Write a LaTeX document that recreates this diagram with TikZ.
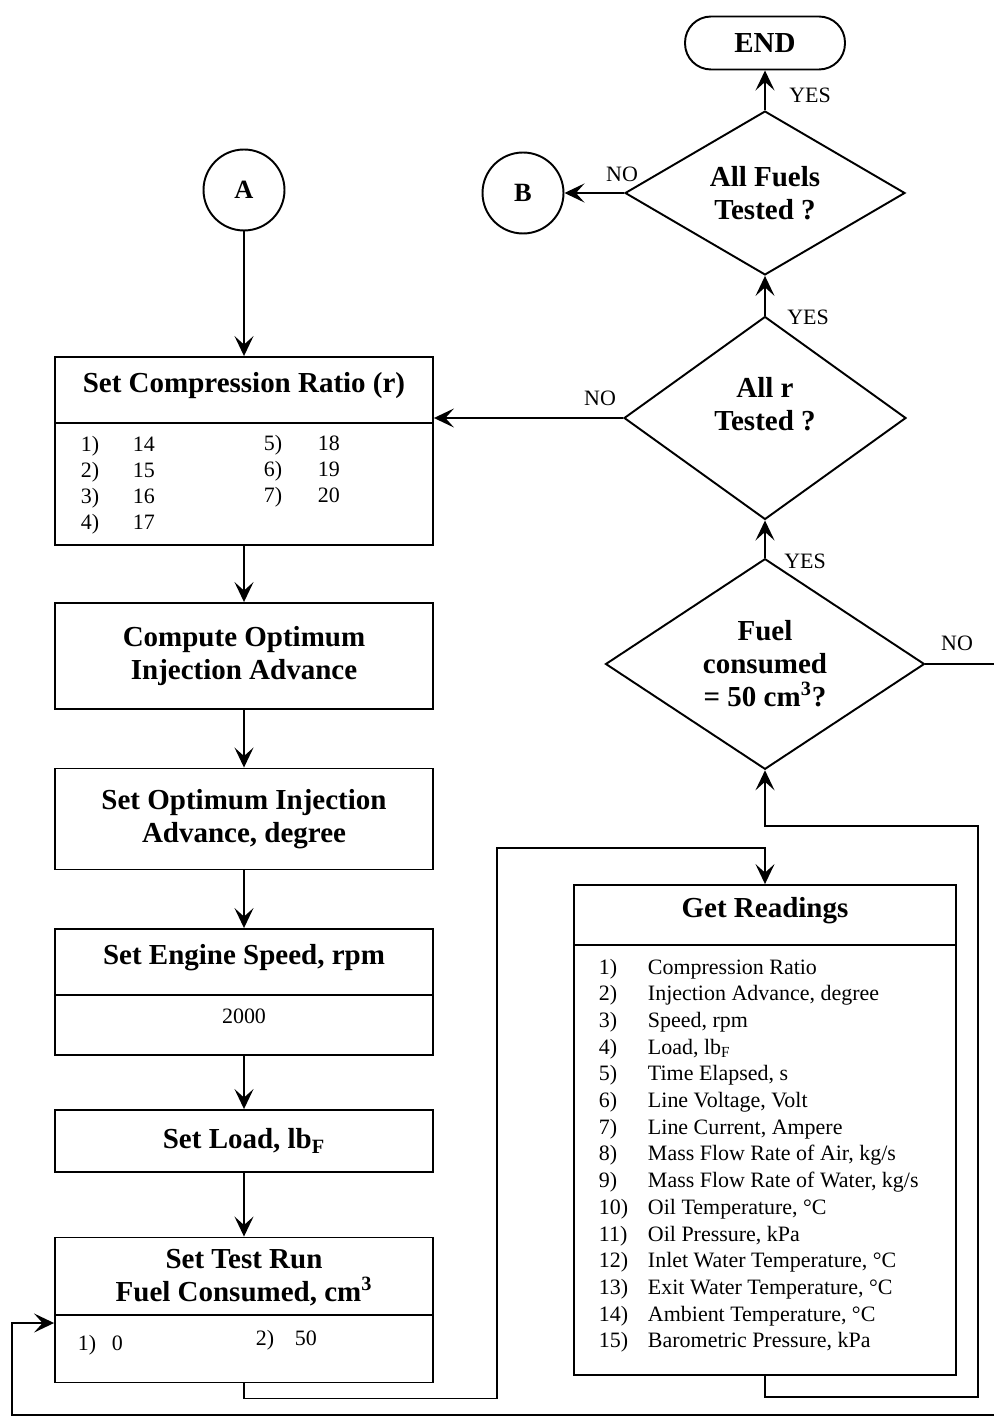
\documentclass[tikz,border=0pt]{standalone}
\usepackage{fontspec}
\setmainfont{Liberation Serif}
\usepackage{tikz}
\usetikzlibrary{shapes.geometric, arrows.meta, positioning}

\newcommand{\titlefont}{\fontsize{16.5}{18.8}\selectfont\bfseries}
\newcommand{\listfont}{\fontsize{12.5}{15}\selectfont}

\tikzset{
    box/.style={draw, minimum width=7.56cm, inner sep=0pt, align=center, font=\titlefont},
    decision/.style={draw, diamond, inner sep=0pt, align=center, font=\titlefont},
    terminal/.style={draw, rounded corners=5.2mm, minimum width=3.2cm, minimum height=1.06cm, font=\titlefont},
    conn/.style={draw, circle, minimum size=1.62cm, inner sep=0pt, font=\fontsize{15}{18}\selectfont\bfseries},
    title/.style={inner sep=0pt, align=center, font=\titlefont},
    entry/.style={inner sep=0pt, anchor=base west, font=\listfont},
    tag/.style={inner sep=0pt, font=\fontsize{12.5}{15}\selectfont}
}

\begin{document}
\begin{tikzpicture}[x=0.02cm, y=-0.02cm, line width=1.1pt,
    >={Stealth[length=4mm, width=3.8mm, inset=1.7mm]}]
    \useasboundingbox (0,0) rectangle (994,1422);

    % 1. Cot trai
    \node[conn] (A) at (244,190) {A};

    \node[box, minimum height=3.76cm] (ratio) at (244,451) {};
    \node[title] (ratio-t) at (244,386) {Set Compression Ratio (r)};
    \draw (ratio.west |- 0,423) -- (ratio.east |- 0,423);
    \foreach \n/\v [count=\i from 0] in {1/14, 2/15, 3/16, 4/17} {
        \node[entry] (rn\n) at (80,{451+26*\i}) {\n)};
        \node[entry] (rv\n) at (132,{451+26*\i}) {\v};
    }
    \foreach \n/\v [count=\i from 0] in {5/18, 6/19, 7/20} {
        \node[entry] (rn\n) at (263,{450+26*\i}) {\n)};
        \node[entry] (rv\n) at (317,{450+26*\i}) {\v};
    }

    \node[box, minimum height=2.12cm] (optcalc) at (244,656) {Compute Optimum\\Injection Advance};
    \node[box, minimum height=2.02cm] (optset) at (244,819) {Set Optimum Injection\\Advance, degree};

    \node[box, minimum height=2.52cm] (speed) at (244,992) {};
    \node[title] (speed-t) at (244,958) {Set Engine Speed, rpm};
    \draw (speed.west |- 0,995) -- (speed.east |- 0,995);
    \node[entry, anchor=center] (speed-v) at (244,1016) {2000};

    \node[box, minimum height=1.24cm] (load) at (244,1141) {Set Load, lb\textsubscript{F}};

    \node[box, minimum height=2.9cm] (run) at (244,1310) {};
    \node[title] (run-t) at (244,1278) {Set Test Run\\Fuel Consumed, cm\textsuperscript{3}};
    \draw (run.west |- 0,1315) -- (run.east |- 0,1315);
    \node[entry] (run-n1) at (77,1350) {1)};
    \node[entry] (run-v1) at (111,1350) {0};
    \node[entry] (run-n2) at (255,1345) {2)};
    \node[entry] (run-v2) at (294,1345) {50};

    % 2. Cot phai
    \node[terminal] (end) at (765,43) {END};
    \node[decision, minimum width=5.6cm, minimum height=3.2cm] (fuels) at (765,193) {All Fuels\\Tested ?};
    \node[conn] (B) at (523,193) {B};
    \node[decision, minimum width=5.64cm, minimum height=4.06cm] (rdone) at (765,418) {};
    \node[title] (rdone-t) at (765,404) {All r\\Tested ?};
    \node[decision, minimum width=6.38cm, minimum height=4.16cm] (fuel50) at (765,664) {Fuel\\consumed\\= 50 cm\textsuperscript{3}?};

    \node[box, minimum width=7.64cm, minimum height=9.8cm] (read) at (765,1130) {};
    \node[title] (read-t) at (765,911) {Get Readings};
    \draw (read.west |- 0,945) -- (read.east |- 0,945);
    \foreach \t [count=\i] in {Compression Ratio, {Injection Advance, degree}, {Speed, rpm},
        {Load, lb\textsubscript{F}}, {Time Elapsed, s}, {Line Voltage, Volt}, {Line Current, Ampere},
        {Mass Flow Rate of Air, kg/s}, {Mass Flow Rate of Water, kg/s}, {Oil Temperature, °C},
        {Oil Pressure, kPa}, {Inlet Water Temperature, °C}, {Exit Water Temperature, °C},
        {Ambient Temperature, °C}, {Barometric Pressure, kPa}} {
        \node[entry] (rd\i) at (598,{974+26.7*(\i-1)}) {\i)};
        \node[entry] (rt\i) at (647,{974+26.7*(\i-1)}) {\t};
    }

    % 3. Nhan YES / NO
    \node[tag] (yes1) at (810,95) {YES};
    \node[tag] (yes2) at (808,317) {YES};
    \node[tag] (yes3) at (805,561) {YES};
    \node[tag] (no1) at (622,174) {NO};
    \node[tag] (no2) at (600,398) {NO};
    \node[tag] (no3) at (957,643) {NO};

    % 4. Duong noi
    \draw[->] (A) -- (ratio);
    \draw[->] (ratio) -- (optcalc);
    \draw[->] (optcalc) -- (optset);
    \draw[->] (optset) -- (speed);
    \draw[->] (speed) -- (load);
    \draw[->] (load) -- (run);
    \draw[->] (fuel50) -- (rdone);
    \draw[->] (rdone) -- (fuels);
    \draw[->] (fuels) -- (end);
    \draw[->] (fuels) -- (B);
    \draw[->] (rdone.west) -- (rdone.west -| ratio.east);
    \draw[->] (run.south) -- ++(0,15) -| (497,848) -| (read.north);
    \draw[->] (read.south) -- ++(0,21) -| (978,826) -| (fuel50.south);

    \coordinate (exitR) at (994,664);
    \coordinate (entryB) at (994,1415);
    \draw (fuel50.east) -- (exitR);
    \draw[->] (entryB) -- (12,1415) |- (run.west |- 0,1323);
\end{tikzpicture}
\end{document}
